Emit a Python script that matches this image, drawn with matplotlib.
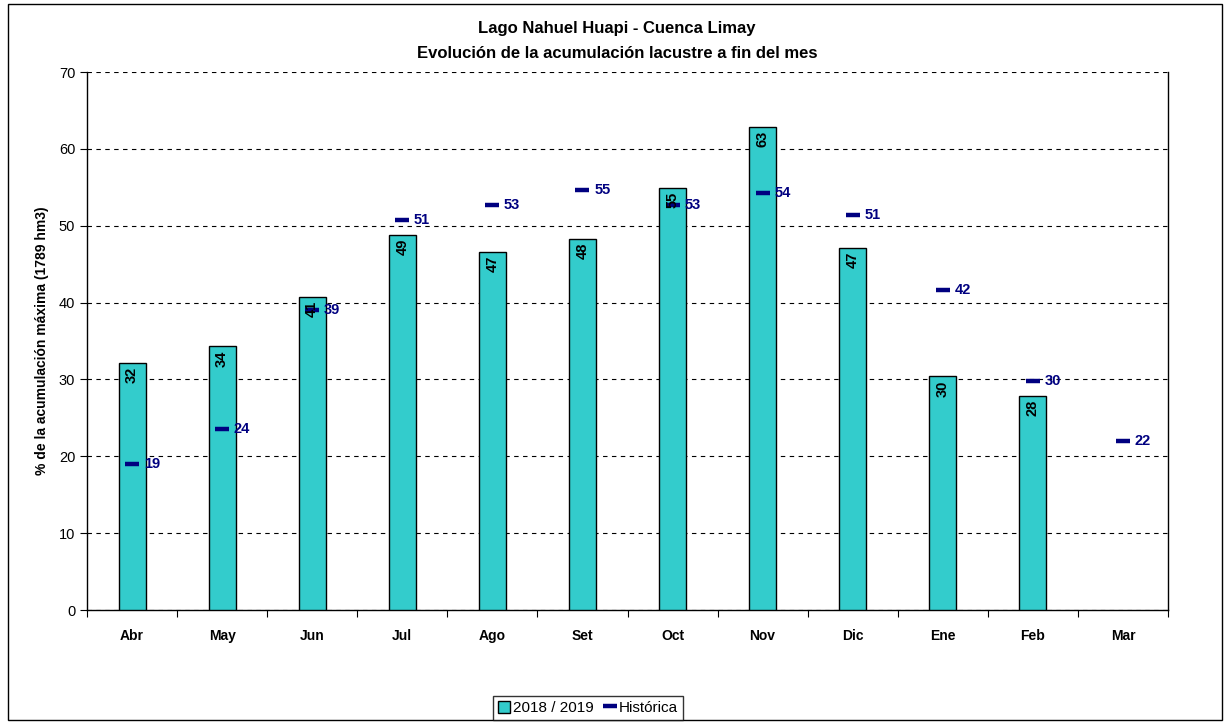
import numpy as np
import matplotlib.pyplot as plt
from matplotlib.patches import Rectangle
from matplotlib.lines import Line2D

plt.rcParams['font.family'] = ['Liberation Sans', 'DejaVu Sans']

meses = ["Abr", "May", "Jun", "Jul", "Ago", "Set", "Oct", "Nov", "Dic", "Ene", "Feb", "Mar"]
actual = [32.2, 34.3, 40.7, 48.8, 46.6, 48.3, 54.9, 62.8, 47.1, 30.4, 27.8, np.nan]
historica = [19.0, 23.5, 39.0, 50.7, 52.7, 54.6, 52.7, 54.3, 51.4, 41.6, 29.8, 22.0]

fig = plt.figure(figsize=(12.32, 7.24), dpi=100)
ax = fig.add_axes([87 / 1232, 1 - 610 / 724, 1081 / 1232, 538 / 724])

# outer frame like the spreadsheet chart area
fig.patches.append(Rectangle((8 / 1232, 4 / 724), 1214 / 1232, 716 / 724, transform=fig.transFigure,
                             fill=False, edgecolor='black', linewidth=1.0))

x = np.arange(len(meses))
ax.bar(x, actual, width=0.3, color='#33CCCC', edgecolor='black', linewidth=1.0, zorder=3)
ax.plot(x, historica, linestyle='none', marker='_', markersize=10, markeredgewidth=3.2,
        color='#000080', zorder=4)

for xi, v in zip(x, actual):
    if np.isnan(v):
        continue
    ax.text(xi, v - 0.5, f"{v:.0f}", rotation=90, ha='center', va='top',
            fontsize=10.5, fontweight='bold', color='black', zorder=5)
for xi, v in zip(x, historica):
    ax.text(xi + 0.13, v, f"{v:.0f}", ha='left', va='center',
            fontsize=10.5, fontweight='bold', color='#000080', zorder=5)

ax.set_xlim(-0.5, len(meses) - 0.5)
ax.set_ylim(0, 70)
ax.set_yticks(np.arange(0, 71, 10))
ax.yaxis.grid(True, linestyle=(0, (4, 4)), color='black', linewidth=0.8)
ax.set_axisbelow(True)

ax.set_xticks(x)
ax.set_xticklabels(meses, fontweight='bold', fontsize=10)
ax.tick_params(axis='x', length=0, pad=14)
ax.set_xticks(np.arange(-0.5, len(meses), 1), minor=True)
ax.tick_params(axis='x', which='minor', length=5, width=0.8)
ax.tick_params(axis='y', length=5, width=0.8, labelsize=10.5)

for s in ['top', 'right']:
    ax.spines[s].set_visible(False)
ax.spines['left'].set_linewidth(1.0)
ax.spines['bottom'].set_linewidth(1.0)
ax.plot([1, 1], [0, 1], transform=ax.transAxes, color='black', linewidth=1.0, clip_on=False)

ax.set_ylabel("% de la acumulación máxima (1789 hm3)", fontweight='bold', fontsize=10, labelpad=7)
fig.text(617 / 1232, 1 - 29 / 724, "Lago Nahuel Huapi - Cuenca Limay", ha='center', va='center',
         fontsize=12, fontweight='bold')
fig.text(617 / 1232, 1 - 53 / 724, "Evolución de la acumulación lacustre a fin del mes", ha='center',
         va='center', fontsize=12, fontweight='bold')

handles = [Rectangle((0, 0), 1, 1, facecolor='#33CCCC', edgecolor='black', linewidth=1.0),
           Line2D([], [], linestyle='none', marker='_', markersize=10, markeredgewidth=3.2, color='#000080')]
leg = fig.legend(handles, ["2018 / 2019", "Histórica"], loc='center', bbox_to_anchor=(588 / 1232, 1 - 708 / 724),
                 ncol=2, frameon=True, fancybox=False, fontsize=11, handlelength=0.8, handletextpad=0.2,
                 columnspacing=0.6, borderpad=0.35, handleheight=0.8)
leg.get_frame().set_edgecolor('black')
leg.get_frame().set_linewidth(1.0)

fig.savefig("out.png", dpi=100)
